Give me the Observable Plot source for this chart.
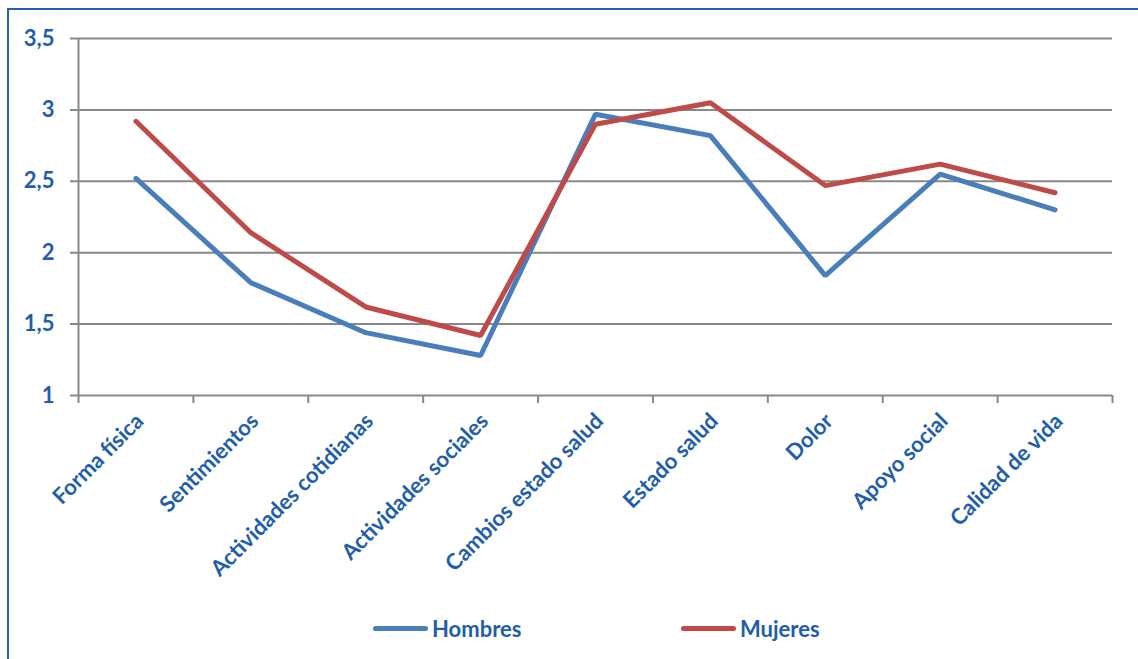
<!DOCTYPE html>
<html>
<head>
<meta charset="utf-8">
<script src="https://cdn.jsdelivr.net/npm/d3@7"></script>
<script src="https://cdn.jsdelivr.net/npm/@observablehq/plot@0.6"></script>
<style>
  html, body { margin: 0; padding: 0; background: #fff; width: 1138px; height: 659px; overflow: hidden; }
  #frame { position: absolute; left: 7px; top: 8px; width: 1150px; height: 720px; border: 2px solid #2262ae; box-sizing: border-box; }
  #chart { position: absolute; left: 0; top: 0; }
  .legend { position: absolute; top: 615px; font-family: Lato, "Open Sans", sans-serif; font-weight: 700; font-size: 22px; color: #1f5ea8; display: flex; align-items: center; }
  .legend .sw { width: 55px; height: 5px; border-radius: 3px; margin-right: 4px; }
</style>
</head>
<body>
<div id="frame"></div>
<div id="chart"></div>
<div class="legend" style="left:373px"><span class="sw" style="background:#4a7ebb"></span>Hombres</div>
<div class="legend" style="left:681px"><span class="sw" style="background:#be4b48"></span>Mujeres</div>
<script>
const categories = ["Forma física", "Sentimientos", "Actividades cotidianas", "Actividades sociales", "Cambios estado salud", "Estado salud", "Dolor", "Apoyo social", "Calidad de vida"];
const hombres = [2.52, 1.79, 1.44, 1.28, 2.97, 2.82, 1.84, 2.55, 2.30];
const mujeres = [2.92, 2.14, 1.62, 1.42, 2.90, 3.05, 2.47, 2.62, 2.42];
const yTicks = [1, 1.5, 2, 2.5, 3, 3.5];
const seriesNames = ["Hombres", "Mujeres"];
const colors = ["#4a7ebb", "#be4b48"];

const data = [];
categories.forEach((c, i) => {
  data.push({serie: "Hombres", idx: i + 0.5, cat: c, value: hombres[i]});
  data.push({serie: "Mujeres", idx: i + 0.5, cat: c, value: mujeres[i]});
});
const labels = categories.map((c, i) => ({idx: i + 0.5, cat: c}));
const bounds = d3.range(categories.length + 1);
const fmt = d => String(d).replace(".", ",");

const chart = Plot.plot({
  width: 1138,
  height: 600,
  marginLeft: 78,
  marginRight: 26,
  marginTop: 38,
  marginBottom: 205,
  style: {fontFamily: "Lato, 'Open Sans', sans-serif", background: "transparent", overflow: "visible"},
  x: {type: "linear", domain: [0, categories.length], axis: null},
  y: {type: "linear", domain: [1, 3.5], axis: null},
  color: {domain: seriesNames, range: colors},
  marks: [
    Plot.ruleY(yTicks, {stroke: "#888888", strokeWidth: 2, x1: 0, x2: categories.length, insetLeft: -8}),
    Plot.ruleX([0], {y1: 1, y2: 3.5, stroke: "#888888", strokeWidth: 2}),
    Plot.ruleX(bounds, {y1: 1, y2: 1, stroke: "#888888", strokeWidth: 2, insetBottom: -8}),
    Plot.text(yTicks, {x: 0, y: d => d, text: fmt, textAnchor: "end", dx: -24, fill: "#1f5ea8", fontWeight: 700, fontSize: 22}),
    Plot.text(labels, {x: "idx", y: 1, text: "cat", textAnchor: "end", rotate: -45, dx: 4, dy: 22, fill: "#1f5ea8", fontWeight: 700, fontSize: 22}),
    Plot.line(data, {x: "idx", y: "value", stroke: "serie", z: "serie", strokeWidth: 5, strokeLinejoin: "miter", strokeLinecap: "round"})
  ]
});
document.getElementById("chart").append(chart);
</script>
</body>
</html>
